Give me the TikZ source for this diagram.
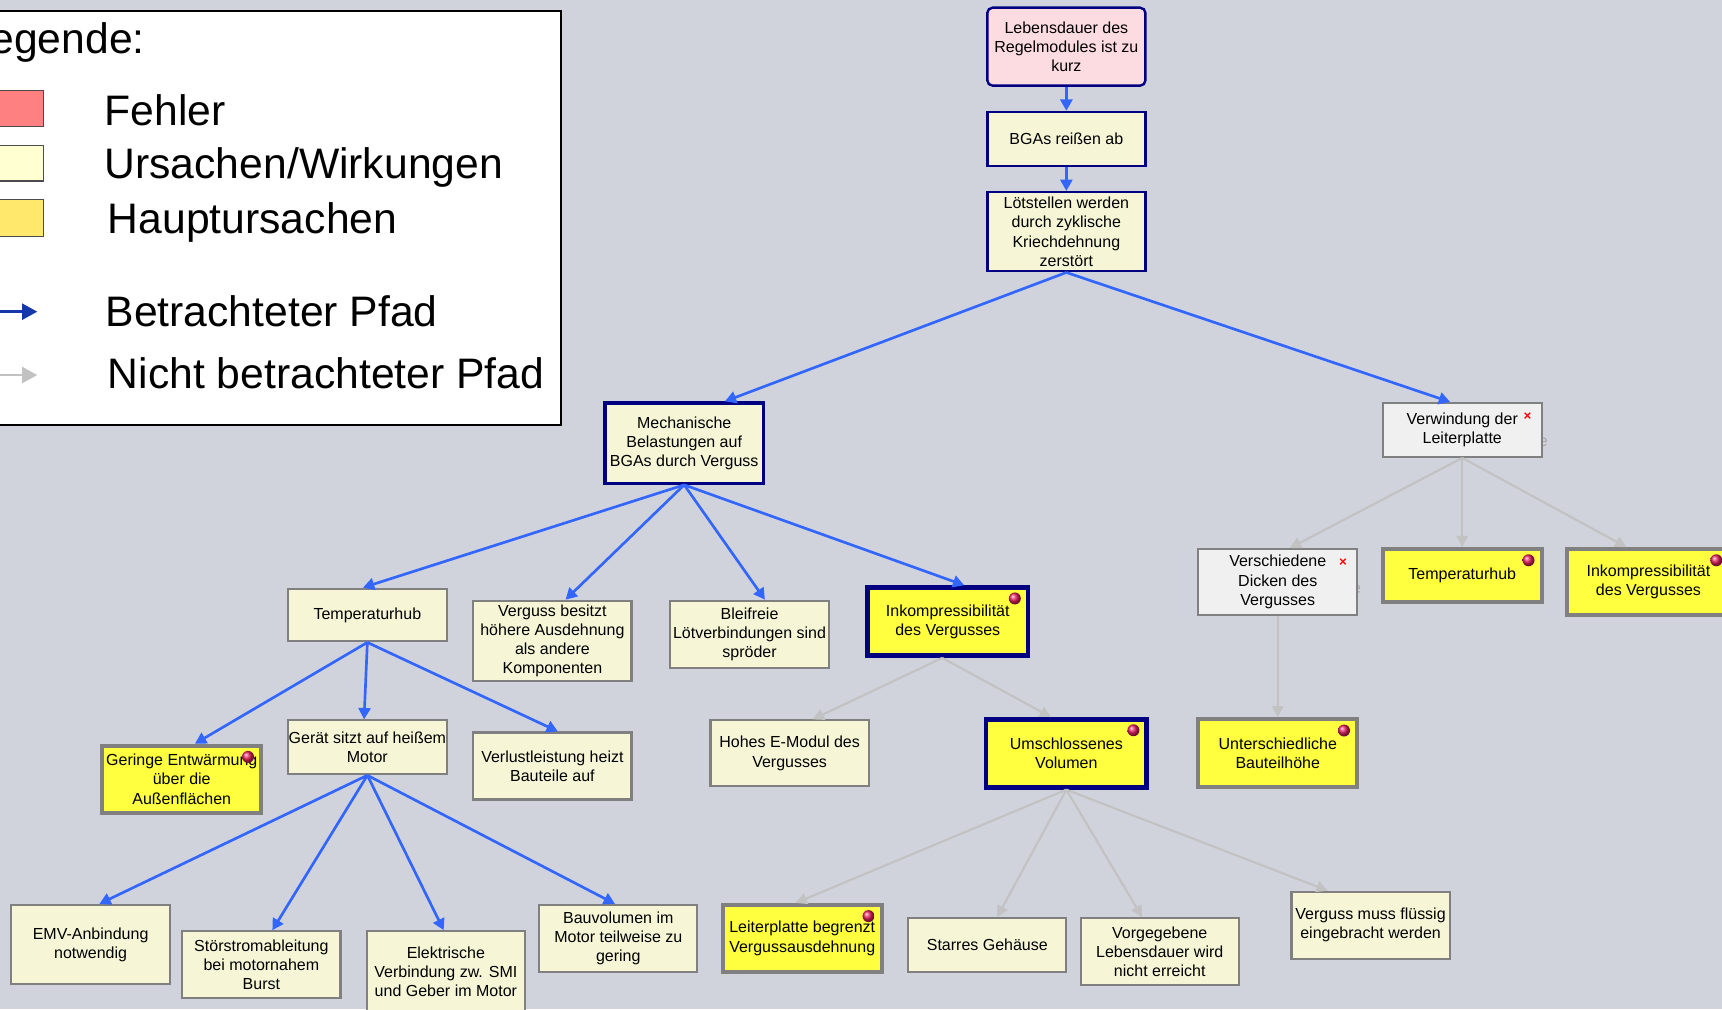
\documentclass[tikz,border=0pt]{standalone}
\usepackage{fontspec}
\setmainfont{Liberation Sans}
\usetikzlibrary{arrows.meta,calc}
\definecolor{bg}{RGB}{208,211,220}
\definecolor{navy}{RGB}{0,0,128}
\definecolor{lyel}{RGB}{246,246,214}
\definecolor{yel}{RGB}{255,255,64}
\definecolor{pinkf}{RGB}{252,219,225}
\definecolor{lgr}{RGB}{240,240,240}
\definecolor{bdgray}{RGB}{128,128,128}
\definecolor{cblue}{RGB}{51,102,255}
\definecolor{cgray}{RGB}{194,194,194}
\definecolor{legblue}{RGB}{20,55,170}
\definecolor{dotred}{RGB}{230,30,95}
\definecolor{legred}{RGB}{255,128,128}
\definecolor{legly}{RGB}{255,255,210}
\definecolor{legy}{RGB}{255,232,107}
\def\u{0.8237pt}
\newcommand\bnode[7]{\node[#1, minimum width={(#5-#3)*\u}, minimum height={(#6-#4)*\u}] (#2) at ({(#3+#5)/2},{(#4+#6)/2}) {#7};}
\begin{document}
\begin{tikzpicture}[x=0.8237pt,y=-0.8237pt,
  bx/.style={rectangle, inner sep=0pt, align=center, font=\fontsize{12}{14.4}\selectfont, text=black},
  pk/.style={bx, fill=pinkf, draw=navy, line width=1.8pt, rounded corners=4pt},
  ln/.style={bx, fill=lyel, draw=navy, line width=1.8pt},
  lnt/.style={bx, fill=lyel, draw=navy, line width=2.5pt},
  ly/.style={bx, fill=lyel, draw=bdgray, line width=1.6pt},
  lg/.style={bx, fill=lgr, draw=bdgray, line width=1.6pt},
  yg/.style={bx, fill=yel, draw=bdgray, line width=3pt},
  yn/.style={bx, fill=yel, draw=navy, line width=3.4pt},
  barrow/.style={draw=cblue, line width=2pt, -{Triangle[length=8.5pt,width=9pt]}},
  garrow/.style={draw=cgray, line width=1.6pt, -{Triangle[length=8.5pt,width=8.5pt]}},
  legtxt/.style={inner sep=0pt, font=\fontsize{32}{37}\selectfont},
  ghost/.style={inner sep=0pt, text={rgb,255:red,170;green,170;blue,170}, font=\fontsize{12}{14.4}\selectfont},
  rdot/.style={ball color=dotred},
  rx/.style={inner sep=0pt, text=red, font=\fontsize{10}{10}\selectfont\bfseries}
]
\useasboundingbox (0,0) rectangle (1568,919);
\clip (0,0) rectangle (1568,919);
\fill[bg] (0,0) rectangle (1568,919);

% legend
\draw[fill=white, draw=black, line width=1.3pt] (-10,10) rectangle (511,387);
\node[legtxt, anchor=base east] (legtitle) at (132,48.6) {Legende:};
\draw[fill=legred, draw=black!70, line width=0.8pt] (-10,82.6) rectangle (39.7,115.4);
\draw[fill=legly, draw=black!70, line width=0.8pt] (-10,132.7) rectangle (39.7,164.8);
\draw[fill=legy, draw=black!70, line width=0.8pt] (-10,182) rectangle (39.7,215);
\node[legtxt, anchor=base west] (l1) at (95,114) {Fehler};
\node[legtxt, anchor=base west] (l2) at (95,162.5) {Ursachen/Wirkungen};
\node[legtxt, anchor=base west] (l3) at (98,213) {Hauptursachen};
\node[legtxt, anchor=base west] (l4) at (96,297.5) {Betrachteter Pfad};
\node[legtxt, anchor=base west] (l5) at (98,354) {Nicht betrachteter Pfad};
\coordinate (lba) at (-10,283.8);
\coordinate (lbb) at (34,283.8);
\coordinate (lga) at (-10,341.5);
\coordinate (lgb) at (34,341.5);
\draw[legblue, line width=2pt, -{Triangle[length=11.5pt,width=12pt]}] (lba) -- (lbb);
\draw[cgray, line width=2pt, -{Triangle[length=11.5pt,width=12pt]}] (lga) -- (lgb);

% ghost letters
\node[ghost, anchor=west] (ge1) at (1401,403) {e};
\node[ghost, anchor=west] (ge2) at (1231,537) {e};

% nodes
\bnode{pk}{root}{899}{7}{1043}{78}{Lebensdauer des\\Regelmodules ist zu\\kurz}
\bnode{ln}{bga}{899}{102}{1043}{151}{BGAs reißen ab}
\bnode{ln}{loet}{899}{175}{1043}{247}{Lötstellen werden\\durch zyklische\\Kriechdehnung\\zerstört}
\bnode{lnt}{mech}{551}{367}{695}{440}{Mechanische\\Belastungen auf\\BGAs durch Verguss}
\bnode{lg}{verw}{1259}{367}{1404}{416}{Verwindung der\\Leiterplatte}
\bnode{ly}{th1}{262}{536}{407}{584}{Temperaturhub}
\bnode{ly}{vbh}{431}{547}{575}{620}{Verguss besitzt\\höhere Ausdehnung\\als andere\\Komponenten}
\bnode{ly}{blf}{610}{547}{755}{608}{Bleifreie\\Lötverbindungen sind\\spröder}
\bnode{yn}{ink1}{790}{535}{936}{597}{Inkompressibilität\\des Vergusses}
\bnode{lg}{vdd}{1091}{500}{1236}{560}{Verschiedene\\Dicken des\\Vergusses}
\bnode{yg}{th2}{1259}{500}{1404}{548}{Temperaturhub}
\bnode{yg}{ink2}{1427}{500}{1575}{560}{Inkompressibilität\\des Vergusses}
\bnode{yg}{ger}{93}{679}{238}{740}{Geringe Entwärmung\\über die\\Außenflächen}
\bnode{ly}{gmo}{262}{656}{407}{705}{Gerät sitzt auf heißem\\Motor}
\bnode{ly}{vlh}{431}{667}{575}{728}{Verlustleistung heizt\\Bauteile auf}
\bnode{ly}{hem}{647}{656}{791}{716}{Hohes E-Modul des\\Vergusses}
\bnode{yn}{umv}{898}{655}{1044}{717}{Umschlossenes\\Volumen}
\bnode{yg}{ubh}{1091}{655}{1236}{717}{Unterschiedliche\\Bauteilhöhe}
\bnode{ly}{emv}{10}{824}{155}{896}{EMV-Anbindung\\notwendig}
\bnode{ly}{sto}{166}{848}{310}{909}{Störstromableitung\\bei motornahem\\Burst}
\bnode{ly}{ele}{334}{848}{478}{922}{Elektrische\\Verbindung zw. SMI\\und Geber im Motor}
\bnode{ly}{bau}{491}{824}{635}{885}{Bauvolumen im\\Motor teilweise zu\\gering}
\bnode{yg}{lpb}{658}{824}{803}{885}{Leiterplatte begrenzt\\Vergussausdehnung}
\bnode{ly}{sge}{827}{836}{971}{885}{Starres Gehäuse}
\bnode{ly}{vle}{984}{836}{1128}{897}{Vorgegebene\\Lebensdauer wird\\nicht erreicht}
\bnode{ly}{vmf}{1176}{812}{1320}{873}{Verguss muss flüssig\\eingebracht werden}

% markers
\foreach \n in {ink1,th2,ink2,ger,umv,ubh,lpb}{
  \shade[rdot] ($(\n.north east)+(-14,12)$) circle[radius=4.5pt];
}
\node[rx] (x1) at ($(verw.north east)+(-14,13)$) {×};
\node[rx] (x2) at ($(vdd.north east)+(-14,13)$) {×};

% considered paths
\draw[barrow] (root.south) -- (bga.north);
\draw[barrow] (bga.south) -- (loet.north);
\draw[barrow] (loet.south) -- ($(mech.north)+(37,0)$);
\draw[barrow] (loet.south) -- ($(verw.north)+(-11,0)$);
\draw[barrow] (mech.south) -- ($(th1.north)+(-4,0)$);
\draw[barrow] (mech.south) -- ($(vbh.north)+(12,0)$);
\draw[barrow] (mech.south) -- ($(blf.north)+(14,0)$);
\draw[barrow] (mech.south) -- ($(ink1.north)+(15,0)$);
\draw[barrow] (th1.south) -- ($(ger.north)+(12,0)$);
\draw[barrow] (th1.south) -- ($(gmo.north)+(-3,0)$);
\draw[barrow] (th1.south) -- ($(vlh.north)+(5,0)$);
\draw[barrow] (gmo.south) -- ($(emv.north)+(8,0)$);
\draw[barrow] (gmo.south) -- ($(sto.north)+(10,0)$);
\draw[barrow] (gmo.south) -- ($(ele.north)+(-2,0)$);
\draw[barrow] (gmo.south) -- ($(bau.north)+(-3,0)$);

% not considered paths
\draw[garrow] (verw.south) -- ($(vdd.north)+(11,0)$);
\draw[garrow] (verw.south) -- (th2.north);
\draw[garrow] (verw.south) -- ($(ink2.north)+(-20,0)$);
\draw[garrow] (vdd.south) -- (ubh.north);
\draw[garrow] ($(ink1.south)+(-5,0)$) -- ($(hem.north)+(21,0)$);
\draw[garrow] ($(ink1.south)+(-5,0)$) -- ($(umv.north)+(-14,0)$);
\draw[garrow] (umv.south) -- ($(lpb.north)+(-6,0)$);
\draw[garrow] (umv.south) -- ($(sge.north)+(9,0)$);
\draw[garrow] (umv.south) -- ($(vle.north)+(-16,0)$);
\draw[garrow] (umv.south) -- ($(vmf.north)+(-39,0)$);
\end{tikzpicture}
\end{document}
